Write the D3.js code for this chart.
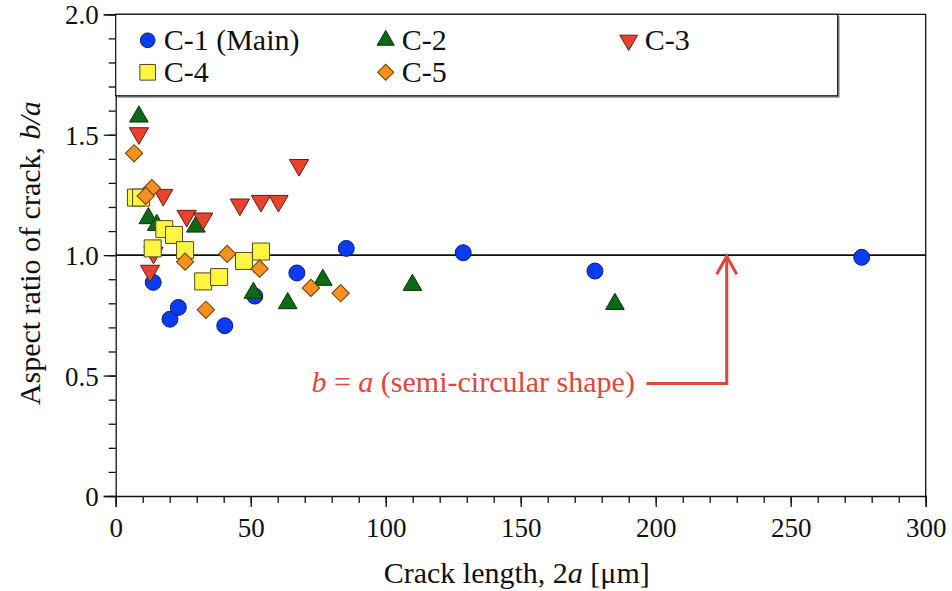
<!DOCTYPE html>
<html>
<head>
<meta charset="utf-8">
<script src="https://cdn.jsdelivr.net/npm/d3@7"></script>
<style>
  body { margin: 0; background: #fff; }
</style>
</head>
<body>
<div id="chart-area"></div>
<script>
const canvas_width = 952;
const canvas_height = 591;
const margin = { left: 115.7, right: 26.3, top: 14.3, bottom: 95 };
const width = canvas_width - margin.left - margin.right;
const height = canvas_height - margin.top - margin.bottom;
const serif = 'Liberation Serif, Tinos, Times New Roman, Times, DejaVu Serif, serif';

// series names
const seriesNames = ['C-1 (Main)', 'C-2', 'C-3', 'C-4', 'C-5'];

// crack length 2a [um] and aspect ratio b/a per series
const c1_len = [13.9, 20.1, 23.2, 40.4, 51.5, 67.1, 85.4, 128.7, 177.5, 276.3];
const c1_ratio = [0.887, 0.734, 0.783, 0.707, 0.830, 0.926, 1.028, 1.010, 0.934, 0.991];

const c2_len = [8.6, 12.1, 15.2, 29.7, 51.0, 63.7, 76.7, 109.9, 184.9];
const c2_ratio = [1.575, 1.153, 1.125, 1.118, 0.843, 0.800, 0.897, 0.876, 0.797];

const c3_len = [8.6, 17.6, 26.3, 32.4, 46.0, 53.8, 60.3, 67.9, 12.7, 14.0];
const c3_ratio = [1.506, 1.250, 1.163, 1.152, 1.210, 1.225, 1.225, 1.374, 0.935, 1.010];

const c4_len = [7.5, 9.4, 13.7, 18.0, 21.6, 25.7, 32.4, 38.3, 47.5, 53.8];
const c4_ratio = [1.239, 1.239, 1.028, 1.108, 1.084, 1.021, 0.891, 0.909, 0.976, 1.015];

const c5_len = [6.8, 13.4, 11.1, 25.7, 41.3, 53.3, 33.4, 72.3, 83.3];
const c5_ratio = [1.423, 1.278, 1.246, 0.973, 1.005, 0.944, 0.773, 0.864, 0.842];

// axis ticks
const xTicks = [0, 50, 100, 150, 200, 250, 300];
const yTicks = [0, 0.5, 1.0, 1.5, 2.0];
const yTickLabels = ['0', '0.5', '1.0', '1.5', '2.0'];

// annotation anchor in data units
const arrowX = 226.3;
const arrowFromY = 0.467;
const arrowStartX = 196.6;
const noteX = 192.3;
const noteY = 0.43;

const series = [
    { name: seriesNames[0], len: c1_len, ratio: c1_ratio, shape: d3.symbolCircle, size: 200, rot: 0, fill: '#0a3cf5', stroke: '#0b1d6e' },
    { name: seriesNames[1], len: c2_len, ratio: c2_ratio, shape: d3.symbolTriangle, size: 150, rot: 0, fill: '#0c6a14', stroke: '#06330a' },
    { name: seriesNames[2], len: c3_len, ratio: c3_ratio, shape: d3.symbolTriangle, size: 160, rot: 180, fill: '#e8432e', stroke: '#6b1a10' },
    { name: seriesNames[3], len: c4_len, ratio: c4_ratio, shape: d3.symbolSquare, size: 289, rot: 0, fill: '#fdf540', stroke: '#4a4a20' },
    { name: seriesNames[4], len: c5_len, ratio: c5_ratio, shape: d3.symbolSquare, size: 150, rot: 45, fill: '#f7901e', stroke: '#6b3e08' }
];

let svg = d3.select('#chart-area').append('svg')
    .attr('width', canvas_width)
    .attr('height', canvas_height)
    .style('font-family', serif);
let group = svg.append('g').attr('transform', `translate(${margin.left}, ${margin.top})`);

let x = d3.scaleLinear().domain([0, 300]).range([0, width]);
let y = d3.scaleLinear().domain([0, 2]).range([height, 0]);

// frame (top + right)
group.append('path')
    .attr('d', `M0,0H${width}V${height}`)
    .attr('fill', 'none')
    .attr('stroke', '#111')
    .attr('stroke-width', 1.3);

// minor ticks
let xMinor = d3.axisBottom(x).tickValues(d3.range(0, 301, 10)).tickSize(7).tickFormat('');
group.append('g').attr('transform', `translate(0, ${height})`).call(xMinor)
    .call(g => g.select('.domain').remove());
let yMinor = d3.axisLeft(y).tickValues(d3.range(0, 2.001, 0.1)).tickSize(7).tickFormat('');
group.append('g').call(yMinor).call(g => g.select('.domain').remove());

// major axes
let bottomAxis = d3.axisBottom(x).tickValues(xTicks).tickSize(11).tickPadding(6).tickFormat(d3.format('d'));
group.append('g')
    .attr('class', 'bottom axis')
    .attr('transform', `translate(0, ${height})`)
    .attr('font-family', null)
    .call(bottomAxis)
    .selectAll('text')
        .attr('font-size', '27px')
        .attr('dy', '0.9em');

let leftAxis = d3.axisLeft(y).tickValues(yTicks).tickSize(12).tickPadding(5)
    .tickFormat((d, i) => yTickLabels[i]);
group.append('g')
    .attr('class', 'left axis')
    .call(leftAxis)
    .selectAll('text')
        .attr('font-size', '27px')
        .attr('dy', '0.35em');

group.selectAll('.axis').attr('font-family', null);
group.selectAll('.axis path, .axis line, .tick line').attr('stroke', '#111').attr('stroke-width', 1.3);
group.selectAll('.axis text').attr('fill', '#111').style('font-family', serif);

// b = a reference line
group.append('line')
    .attr('x1', x(0)).attr('x2', x(300))
    .attr('y1', y(1)).attr('y2', y(1))
    .attr('stroke', '#111')
    .attr('stroke-width', 1.6);

// points
series.forEach((s) => {
    let sym = d3.symbol().type(s.shape).size(s.size);
    group.append('g').selectAll('path')
        .data(s.len.map((v, i) => ({ len: v, ratio: s.ratio[i] })))
        .enter().append('path')
            .attr('d', sym)
            .attr('transform', (d) => `translate(${x(d.len)}, ${y(d.ratio)}) rotate(${s.rot})`)
            .attr('fill', s.fill)
            .attr('stroke', s.stroke)
            .attr('stroke-width', 1);
});

// annotation
const red = '#e2463a';
group.append('path')
    .attr('d', `M${x(arrowStartX)},${y(arrowFromY)}H${x(arrowX)}V${y(1) + 1}`)
    .attr('fill', 'none')
    .attr('stroke', red)
    .attr('stroke-width', 3);
group.append('path')
    .attr('d', `M${x(arrowX) - 10},${y(1) + 19}L${x(arrowX)},${y(1) + 1}L${x(arrowX) + 10},${y(1) + 19}`)
    .attr('fill', 'none')
    .attr('stroke', red)
    .attr('stroke-width', 3);

let note = group.append('text')
    .attr('x', x(noteX))
    .attr('y', y(noteY))
    .attr('text-anchor', 'end')
    .attr('font-size', '30px')
    .style('fill', red);
note.append('tspan').attr('font-style', 'italic').text('b');
note.append('tspan').text(' = ');
note.append('tspan').attr('font-style', 'italic').text('a');
note.append('tspan').text(' (semi-circular shape)');

// legend
const legW = 722, legH = 81.5;
group.append('rect')
    .attr('x', 2).attr('y', 2)
    .attr('width', legW).attr('height', legH)
    .attr('fill', '#9a9a9a');
group.append('rect')
    .attr('x', 0).attr('y', 0)
    .attr('width', legW).attr('height', legH)
    .attr('fill', '#fff')
    .attr('stroke', '#111')
    .attr('stroke-width', 1.2);

const legCols = [0, 238, 481];
series.forEach((s, i) => {
    let col = i < 3 ? i : i - 3;
    let row = i < 3 ? 0 : 1;
    let lg = group.append('g')
        .attr('transform', `translate(${32 + legCols[col]}, ${26 + row * 32})`);
    lg.append('path')
        .attr('d', d3.symbol().type(s.shape).size(s.size * 0.85))
        .attr('transform', `rotate(${s.rot})`)
        .attr('fill', s.fill)
        .attr('stroke', s.stroke)
        .attr('stroke-width', 1);
    lg.append('text')
        .attr('x', 16)
        .attr('y', 10)
        .attr('font-size', '30px')
        .attr('fill', '#111')
        .text(s.name);
});

// axis labels
let xl = group.append('text')
    .attr('x', width / 2 - 4)
    .attr('y', height + 87)
    .attr('font-size', '30px')
    .attr('fill', '#111')
    .attr('text-anchor', 'middle');
xl.append('tspan').text('Crack length, 2');
xl.append('tspan').attr('font-style', 'italic').text('a');
xl.append('tspan').text(' [μm]');

let yl = group.append('text')
    .attr('transform', `translate(${-76}, ${y(1) - 2}) rotate(-90)`)
    .attr('font-size', '30px')
    .attr('fill', '#111')
    .attr('text-anchor', 'middle');
yl.append('tspan').text('Aspect ratio of crack, ');
yl.append('tspan').attr('font-style', 'italic').text('b/a');
</script>
</body>
</html>
